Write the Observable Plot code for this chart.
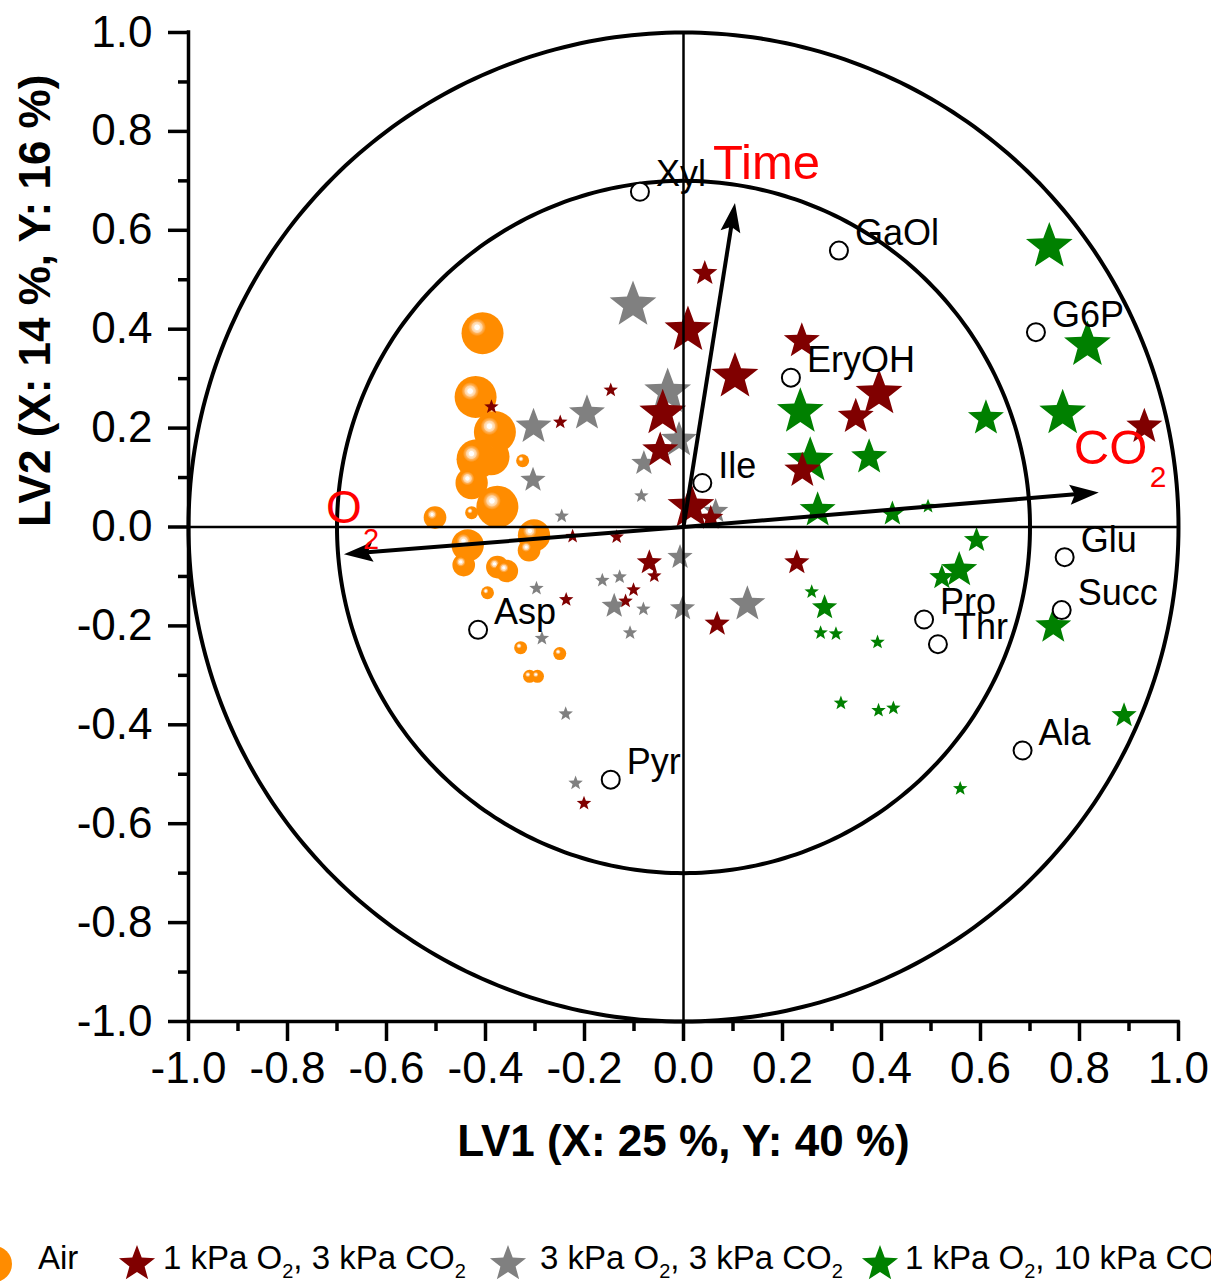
<!DOCTYPE html>
<html>
<head>
<meta charset="utf-8">
<script src="https://cdn.jsdelivr.net/npm/d3@7"></script>
<script src="https://cdn.jsdelivr.net/npm/@observablehq/plot@0.6"></script>
<style>
  html, body { margin: 0; padding: 0; background: #fff; }
  body { width: 1211px; height: 1288px; overflow: hidden; font-family: "Liberation Sans", Arial, sans-serif; }
  #chart svg, #legend svg { display: block; }
</style>
</head>
<body>
<div id="chart"></div>
<div id="legend"></div>
<script>
// ---------------- data ----------------
const groupNames = ["Air", "1 kPa O2, 3 kPa CO2", "3 kPa O2, 3 kPa CO2", "1 kPa O2, 10 kPa CO2"];

// Air (orange spheres); level = marker-size class
const airX = [-0.406, -0.420, -0.381, -0.389, -0.418, -0.428, -0.325, -0.376, -0.502, -0.428, -0.436, -0.302, -0.312, -0.444, -0.376, -0.357, -0.396, -0.329, -0.250, -0.311, -0.295];
const airY = [0.392, 0.263, 0.192, 0.142, 0.137, 0.089, 0.134, 0.041, 0.019, 0.029, -0.037, -0.017, -0.047, -0.077, -0.081, -0.089, -0.133, -0.244, -0.256, -0.302, -0.302];
const airLevel = [4, 4, 4, 3.5, 3.8, 3, 1, 4, 2, 1, 3, 3, 2, 2, 2, 2, 1, 1, 1, 1, 1];

// 1 kPa O2, 3 kPa CO2 (dark red stars)
const lowO2X = [0.043, 0.009, 0.104, 0.239, -0.147, -0.249, -0.388, -0.042, -0.047, 0.015, 0.055, -0.224, -0.135, -0.069, -0.059, -0.101, -0.117, -0.237, 0.068, -0.201, 0.229, 0.395, 0.348, 0.240, 0.931];
const lowO2Y = [0.513, 0.398, 0.304, 0.376, 0.277, 0.212, 0.243, 0.230, 0.155, 0.041, 0.018, -0.019, -0.020, -0.072, -0.099, -0.127, -0.150, -0.147, -0.196, -0.559, -0.072, 0.270, 0.223, 0.114, 0.203];
const lowO2Level = [2, 4, 4, 3, 1, 1, 1, 4, 3, 4, 2, 1, 1, 2, 1, 1, 1, 1, 2, 1, 2, 4, 3, 3, 3];

// 3 kPa O2, 3 kPa CO2 (gray stars)
const midO2X = [-0.102, -0.195, -0.303, -0.032, -0.009, -0.080, -0.085, -0.246, -0.304, 0.065, -0.007, -0.164, -0.129, -0.140, -0.081, -0.002, 0.129, -0.108, -0.286, -0.297, -0.238, -0.218];
const midO2Y = [0.449, 0.230, 0.203, 0.273, 0.176, 0.129, 0.063, 0.022, 0.095, 0.032, -0.061, -0.108, -0.101, -0.160, -0.166, -0.165, -0.156, -0.214, -0.225, -0.124, -0.378, -0.518];
const midO2Level = [4, 3, 3, 4, 3, 2, 1, 1, 2, 2, 2, 1, 1, 2, 1, 2, 3, 1, 1, 1, 1, 1];

// 1 kPa O2, 10 kPa CO2 (green stars)
const highCO2X = [0.739, 0.816, 0.766, 0.611, 0.236, 0.256, 0.375, 0.271, 0.422, 0.494, 0.592, 0.557, 0.522, 0.259, 0.285, 0.277, 0.308, 0.392, 0.747, 0.318, 0.394, 0.424, 0.890, 0.559];
const highCO2Y = [0.567, 0.368, 0.230, 0.220, 0.233, 0.134, 0.141, 0.034, 0.027, 0.042, -0.027, -0.087, -0.102, -0.131, -0.163, -0.214, -0.216, -0.233, -0.201, -0.356, -0.371, -0.366, -0.381, -0.529];
const highCO2Level = [4, 4, 4, 3, 4, 4, 3, 3, 2, 1, 2, 3, 2, 1, 2, 1, 1, 1, 3, 1, 1, 1, 2, 1];

// X-variable loadings (open circles)
const varNames = ["Xyl", "GaOl", "G6P", "EryOH", "Ile", "Glu", "Succ", "Pro", "Thr", "Ala", "Asp", "Pyr"];
const varX = [-0.088, 0.314, 0.712, 0.217, 0.038, 0.770, 0.764, 0.486, 0.514, 0.685, -0.415, -0.147];
const varY = [0.678, 0.559, 0.394, 0.302, 0.089, -0.061, -0.168, -0.187, -0.237, -0.452, -0.208, -0.511];

// Y-variable loadings (arrows)
const arrowNames = ["Time", "CO2", "O2"];
const arrowX = [0.104, 0.839, -0.686];
const arrowY = [0.655, 0.070, -0.055];

// correlation circles and ticks
const ringRadii = [1, 0.7];
const majorTicks = [-1.0, -0.8, -0.6, -0.4, -0.2, 0.0, 0.2, 0.4, 0.6, 0.8, 1.0];
const minorTicks = [-0.9, -0.7, -0.5, -0.3, -0.1, 0.1, 0.3, 0.5, 0.7, 0.9];
const xTitle = "LV1 (X: 25 %, Y: 40 %)";
const yTitle = "LV2 (X: 14 %, Y: 16 %)";

// ---------------- build tables ----------------
const zip = (xs, ys, ls) => xs.map((x, i) => ({x, y: ys[i], level: ls[i]}));
const air = zip(airX, airY, airLevel);
const lowO2 = zip(lowO2X, lowO2Y, lowO2Level);
const midO2 = zip(midO2X, midO2Y, midO2Level);
const highCO2 = zip(highCO2X, highCO2Y, highCO2Level);
const vars = varNames.map((name, i) => ({name, x: varX[i], y: varY[i]}));
const arrows = arrowNames.map((name, i) => ({name, x: arrowX[i], y: arrowY[i]}));
const ringPts = ringRadii.flatMap(R => d3.range(0, 361).map(a => ({R, x: R * Math.cos(a * Math.PI / 180), y: R * Math.sin(a * Math.PI / 180)})));

const colors = {air: "#FF8C00", low: "#800000", mid: "#808080", high: "#008000"};

// ---------------- symbols ----------------
function starPath(ctx, R, ratio) {
  for (let i = 0; i < 10; i++) {
    const a = -Math.PI / 2 + i * Math.PI / 5;
    const rr = i % 2 ? R * ratio : R;
    const px = rr * Math.cos(a), py = rr * Math.sin(a);
    if (i === 0) ctx.moveTo(px, py); else ctx.lineTo(px, py);
  }
  ctx.closePath();
}
const starSymbol = {draw(ctx, size) { starPath(ctx, Math.sqrt(size / Math.PI) * 1.17, 0.42); }};

function arrowHead(dx, dy) {
  const len = Math.hypot(dx, dy);
  const ux = dx / len, uy = -dy / len;
  const nx = -uy, ny = ux;
  const L = 29, W = 10, N = 24;
  return {draw(ctx) {
    ctx.moveTo(0, 0);
    ctx.lineTo(-ux * L + nx * W, -uy * L + ny * W);
    ctx.lineTo(-ux * N, -uy * N);
    ctx.lineTo(-ux * L - nx * W, -uy * L - ny * W);
    ctx.closePath();
  }};
}

const fmt = d => d.toFixed(1);
const labelStyle = {
  Time: [{text: "Time", dx: -22, dy: -40, fontSize: 49}],
  CO2: [{text: "CO", dx: -25, dy: -44, fontSize: 49}, {text: "2", dx: 51, dy: -15, fontSize: 30}],
  O2: [{text: "O", dx: -18, dy: -46, fontSize: 46}, {text: "2", dx: 19, dy: -14, fontSize: 29}]
};

// ---------------- plot ----------------
const starMark = (data, fill) => Plot.dot(data, {x: "x", y: "y", r: "level", symbol: starSymbol, fill, stroke: "none"});

const svg = Plot.plot({
  width: 1211,
  height: 1200,
  marginLeft: 188,
  marginRight: 33,
  marginTop: 32,
  marginBottom: 179,
  x: {domain: [-1, 1]},
  y: {domain: [-1, 1]},
  r: {type: "linear", domain: [1, 4], range: [6.5, 21]},
  style: {fontFamily: "'Liberation Sans', Arial, sans-serif", background: "white", color: "black"},
  marks: [
    Plot.dot(air, {x: "x", y: "y", r: "level", fill: "url(#sphereGrad)", stroke: "none", sort: null}),
    starMark(midO2, colors.mid),
    starMark(highCO2, colors.high),
    starMark(lowO2, colors.low),
    Plot.line(ringPts, {x: "x", y: "y", z: "R", stroke: "black", strokeWidth: 4}),
    Plot.ruleX([0], {y1: -1, y2: 1, stroke: "black", strokeWidth: 2.5}),
    Plot.ruleY([0], {x1: -1, x2: 1, stroke: "black", strokeWidth: 2.5}),
    Plot.link(arrows, {x1: () => 0, y1: () => 0, x2: d => d.x * 0.95, y2: d => d.y * 0.95, stroke: "black", strokeWidth: 4}),
    ...arrows.map(a => Plot.dot([a], {x: "x", y: "y", symbol: arrowHead(a.x, a.y), fill: "black", stroke: "none"})),
    Plot.dot(vars, {x: "x", y: "y", r: 9, fill: "white", stroke: "black", strokeWidth: 2}),
    Plot.text(vars, {x: "x", y: "y", text: "name", dx: 16, dy: -17, textAnchor: "start", fontSize: 36, fill: "black"}),
    ...arrows.flatMap(a => labelStyle[a.name].map(s =>
      Plot.text([a], {x: "x", y: "y", text: () => s.text, dx: s.dx, dy: s.dy, fontSize: s.fontSize, textAnchor: "start", fill: "#FF0000"}))),
    // axes frame (left and bottom only)
    Plot.ruleX([-1], {y1: -1, y2: 1, stroke: "black", strokeWidth: 3.5, strokeLinecap: "square"}),
    Plot.ruleY([-1], {x1: -1, x2: 1, stroke: "black", strokeWidth: 3.5, strokeLinecap: "square"}),
    Plot.axisX({ticks: majorTicks, anchor: "bottom", tickSize: 20, tickPadding: 10, strokeWidth: 3.5, fontSize: 44, tickFormat: fmt, label: null}),
    Plot.axisX({ticks: minorTicks, anchor: "bottom", tickSize: 10, strokeWidth: 3.5, tickFormat: () => "", label: null}),
    Plot.axisY({ticks: majorTicks, anchor: "left", tickSize: 20, tickPadding: 16, strokeWidth: 3.5, fontSize: 44, tickFormat: fmt, label: null}),
    Plot.axisY({ticks: minorTicks, anchor: "left", tickSize: 10, strokeWidth: 3.5, tickFormat: () => "", label: null}),
    Plot.text([xTitle], {text: d => d, frameAnchor: "bottom", lineAnchor: "middle", dy: 120, fontSize: 44, fontWeight: "bold", fill: "black"}),
    Plot.text([yTitle], {text: d => d, frameAnchor: "left", lineAnchor: "middle", dx: -153, rotate: -90, fontSize: 44, fontWeight: "bold", fill: "black"})
  ]
});

const defs = document.createElementNS("http://www.w3.org/2000/svg", "defs");
defs.innerHTML = `<radialGradient id="sphereGrad" cx="0.37" cy="0.36" r="0.62" fx="0.37" fy="0.36">
  <stop offset="0" stop-color="#ffffff"/>
  <stop offset="0.09" stop-color="#ffffff"/>
  <stop offset="0.12" stop-color="#ffe6c8"/>
  <stop offset="0.2" stop-color="#ffd2a0"/>
  <stop offset="0.23" stop-color="#ffb45e"/>
  <stop offset="0.29" stop-color="#ffa030"/>
  <stop offset="0.34" stop-color="#ff8c00"/>
  <stop offset="1" stop-color="#ff8c00"/>
</radialGradient>`;
svg.insertBefore(defs, svg.firstChild);
document.getElementById("chart").appendChild(svg);

// ---------------- legend (below the plot) ----------------
const legendItems = [
  {parts: [["Air", false]], kind: "sphere", color: colors.air, sx: -6, tx: 38},
  {parts: [["1 kPa O", false], ["2", true], [", 3 kPa CO", false], ["2", true]], kind: "star", color: colors.low, sx: 137, tx: 163},
  {parts: [["3 kPa O", false], ["2", true], [", 3 kPa CO", false], ["2", true]], kind: "star", color: colors.mid, sx: 508, tx: 540},
  {parts: [["1 kPa O", false], ["2", true], [", 10 kPa CO", false], ["2", true]], kind: "star", color: colors.high, sx: 880, tx: 905}
];
const lg = d3.select("#legend").append("svg").attr("width", 1211).attr("height", 88)
  .style("font-family", "'Liberation Sans', Arial, sans-serif");
const lgDefs = lg.append("defs");
lgDefs.html(defs.innerHTML.replace('id="sphereGrad"', 'id="sphereGradL"'));
legendItems.forEach(it => {
  if (it.kind === "sphere") {
    lg.append("circle").attr("cx", it.sx).attr("cy", 64).attr("r", 18).attr("fill", "url(#sphereGradL)");
  } else {
    const p = d3.path();
    starPath(p, 19, 0.42);
    lg.append("path").attr("d", p.toString()).attr("transform", `translate(${it.sx},64)`).attr("fill", it.color);
  }
  const t = lg.append("text").attr("x", it.tx).attr("y", 78).attr("font-size", 33).attr("fill", "black");
  it.parts.forEach(([s, sub]) => {
    if (sub) t.append("tspan").attr("font-size", 20).attr("dy", 9).text(s);
    else t.append("tspan").attr("dy", t.selectAll("tspan").size() ? -9 : 0).text(s);
  });
});
</script>
</body>
</html>
